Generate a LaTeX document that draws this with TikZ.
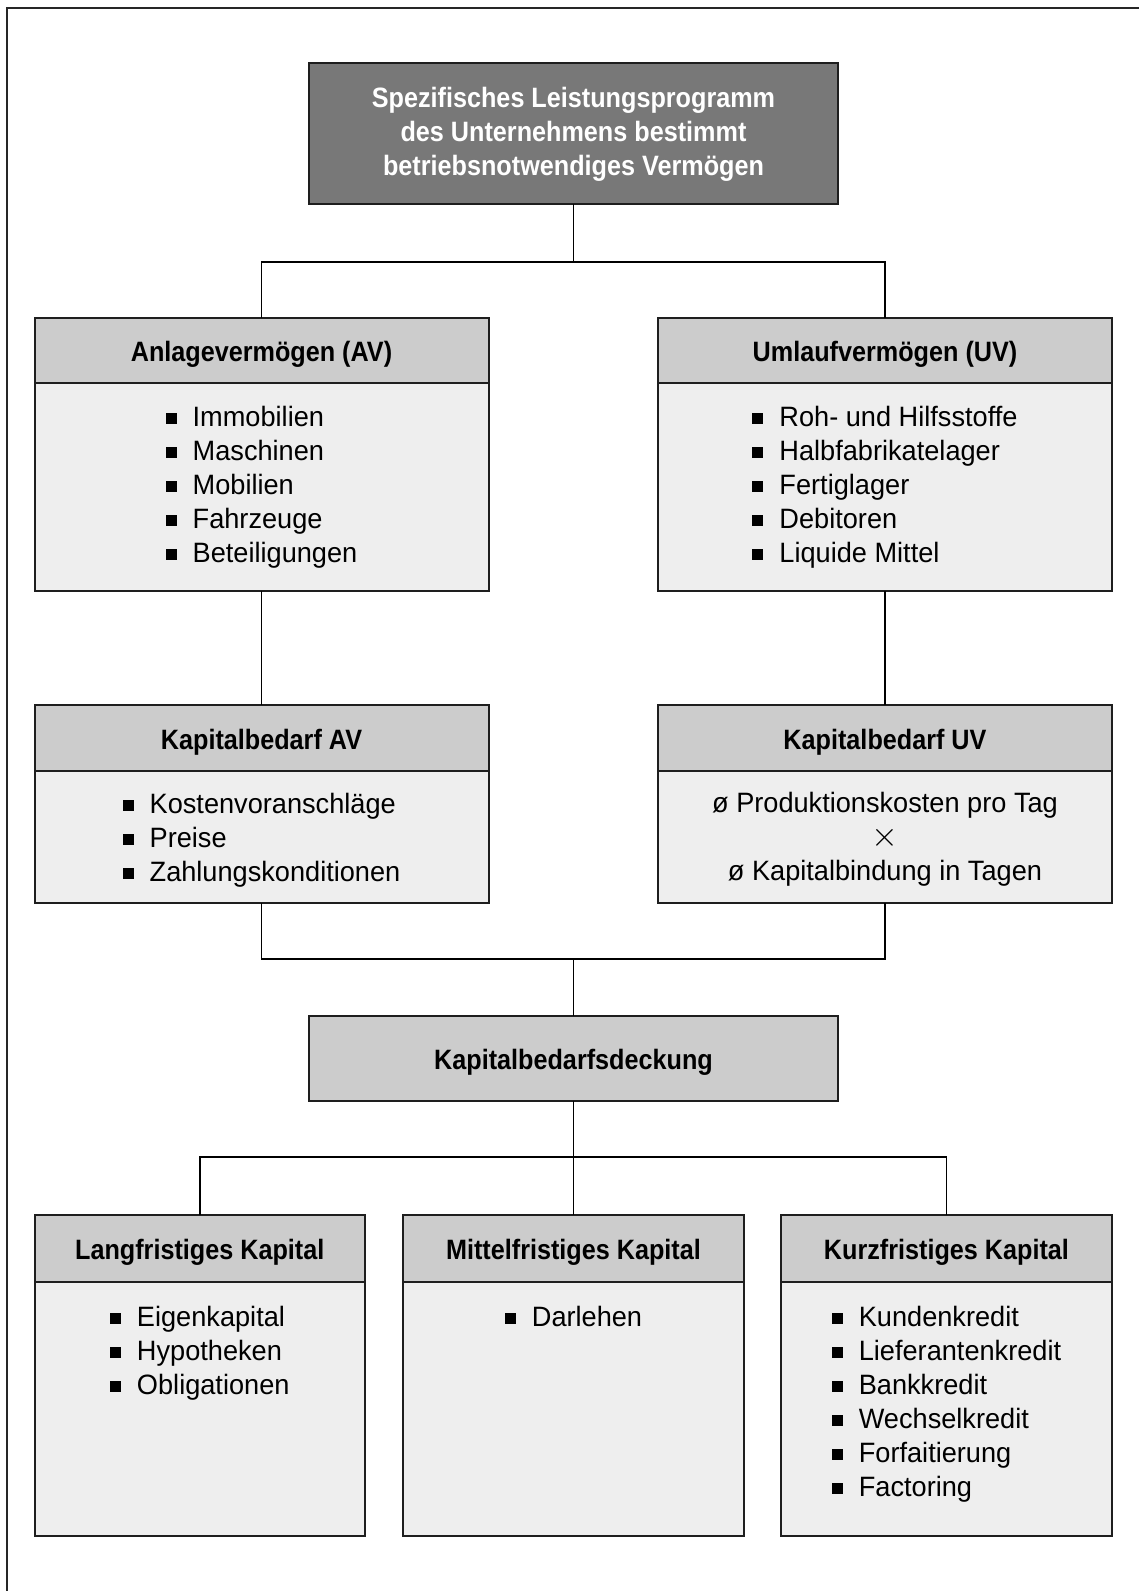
\documentclass[tikz,border=0pt]{standalone}
\usepackage{fontspec}
\setmainfont{Liberation Sans}
\newfontfamily\bodyfont{Liberation Sans}[FakeStretch=0.97]
\newfontfamily\headfont{Liberation Sans}[FakeStretch=0.9]
\definecolor{darkfill}{HTML}{787878}
\definecolor{headfill}{HTML}{CCCCCC}
\definecolor{bodyfill}{HTML}{EEEEEE}
\definecolor{edge}{HTML}{1E1E1E}
\newcommand\bx{\raisebox{0.8pt}{\rule{5.5pt}{5.5pt}}\hspace{8pt}}
\tikzset{
  outerbox/.style={draw=edge, line width=1pt, fill=bodyfill, inner sep=0pt, outer sep=0pt, anchor=north west},
  headbox/.style={draw=edge, line width=1pt, fill=headfill, inner sep=0pt, outer sep=0pt, anchor=north},
  htext/.style={anchor=base, inner sep=0pt, font=\headfont\bfseries\fontsize{14}{17}\selectfont},
  ltext/.style={anchor=base, inner sep=0pt, font=\bodyfont\fontsize{14}{17}\selectfont},
  conn/.style={draw=black, line width=0.75pt},
  frameline/.style={draw=black!85, line width=1pt}
}
\begin{document}
\begin{tikzpicture}[x=0.5pt,y=-0.5pt]
\useasboundingbox (0,0) rectangle (1139,1591);
\draw[frameline] (7,1591) -- (7,8) -- (1139,8);

% top box
\node[outerbox, fill=darkfill, minimum width=264.5pt, minimum height=70.5pt] (top) at (309,63) {};
\node[htext, text=white] (topt) at (573.5,107) {\begin{tabular}[t]{@{}c@{}}Spezifisches Leistungsprogramm\\des Unternehmens bestimmt\\betriebsnotwendiges Vermögen\end{tabular}};

% AV
\node[outerbox, minimum width=227pt, minimum height=136.75pt] (av) at (34.5,317.5) {};
\node[headbox, minimum width=227pt, minimum height=32.75pt] (avh) at (av.north) {};
\node[htext] (avt) at (261.5,361.5) {Anlagevermögen (AV)};
\node[ltext] (avl) at (261.5,426) {\begin{tabular}[t]{@{}l@{}}\bx Immobilien\\\bx Maschinen\\\bx Mobilien\\\bx Fahrzeuge\\\bx Beteiligungen\end{tabular}};

% UV
\node[outerbox, minimum width=227pt, minimum height=136.75pt] (uv) at (658,317.5) {};
\node[headbox, minimum width=227pt, minimum height=32.75pt] (uvh) at (uv.north) {};
\node[htext] (uvt) at (885,361.5) {Umlaufvermögen (UV)};
\node[ltext] (uvl) at (885,426) {\begin{tabular}[t]{@{}l@{}}\bx Roh- und Hilfsstoffe\\\bx Halbfabrikatelager\\\bx Fertiglager\\\bx Debitoren\\\bx Liquide Mittel\end{tabular}};

% Kapitalbedarf AV
\node[outerbox, minimum width=227pt, minimum height=99pt] (kav) at (34.5,705) {};
\node[headbox, minimum width=227pt, minimum height=33pt] (kavh) at (kav.north) {};
\node[htext] (kavt) at (261.5,749.5) {Kapitalbedarf AV};
\node[ltext] (kavl) at (261.5,813) {\begin{tabular}[t]{@{}l@{}}\bx Kostenvoranschläge\\\bx Preise\\\bx Zahlungskonditionen\end{tabular}};

% Kapitalbedarf UV
\node[outerbox, minimum width=227pt, minimum height=99pt] (kuv) at (658,705) {};
\node[headbox, minimum width=227pt, minimum height=33pt] (kuvh) at (kuv.north) {};
\node[htext] (kuvt) at (885,749.5) {Kapitalbedarf UV};
\node[ltext] (kuvl) at (885,812) {\begin{tabular}[t]{@{}c@{}}ø Produktionskosten pro Tag\\{\fontsize{18}{17}\selectfont$\times$}\\ø Kapitalbindung in Tagen\end{tabular}};

% Kapitalbedarfsdeckung
\node[outerbox, fill=headfill, minimum width=264.5pt, minimum height=42.5pt] (kbd) at (309,1016) {};
\node[htext] (kbdt) at (573.5,1069) {Kapitalbedarfsdeckung};

% bottom boxes
\node[outerbox, minimum width=165.25pt, minimum height=160.5pt] (lang) at (34.5,1215) {};
\node[headbox, minimum width=165.25pt, minimum height=33.25pt] (langh) at (lang.north) {};
\node[htext] (langt) at (199.75,1259.5) {Langfristiges Kapital};
\node[ltext] (langl) at (199.75,1326) {\begin{tabular}[t]{@{}l@{}}\bx Eigenkapital\\\bx Hypotheken\\\bx Obligationen\end{tabular}};

\node[outerbox, minimum width=170.5pt, minimum height=160.5pt] (mittel) at (403,1215) {};
\node[headbox, minimum width=170.5pt, minimum height=33.25pt] (mittelh) at (mittel.north) {};
\node[htext] (mittelt) at (573.5,1259.5) {Mittelfristiges Kapital};
\node[ltext] (mittell) at (573.5,1326) {\begin{tabular}[t]{@{}l@{}}\bx Darlehen\end{tabular}};

\node[outerbox, minimum width=165.5pt, minimum height=160.5pt] (kurz) at (781,1215) {};
\node[headbox, minimum width=165.5pt, minimum height=33.25pt] (kurzh) at (kurz.north) {};
\node[htext] (kurzt) at (946.5,1259.5) {Kurzfristiges Kapital};
\node[ltext] (kurzl) at (946.5,1326) {\begin{tabular}[t]{@{}l@{}}\bx Kundenkredit\\\bx Lieferantenkredit\\\bx Bankkredit\\\bx Wechselkredit\\\bx Forfaitierung\\\bx Factoring\end{tabular}};

% connectors
\coordinate (j1) at (573.5,262);
\coordinate (j2) at (573.5,959);
\coordinate (j3) at (573.5,1157);
\draw[conn] (top.south) -- (j1);
\draw[conn] (avh.north) |- (j1) -| (uvh.north);
\draw[conn] (av.south) -- (kavh.north);
\draw[conn] (uv.south) -- (kuvh.north);
\draw[conn] (kav.south) |- (j2) -| (kuv.south);
\draw[conn] (j2) -- (kbd.north);
\draw[conn] (kbd.south) -- (j3);
\draw[conn] (langh.north) |- (j3) -| (kurzh.north);
\draw[conn] (j3) -- (mittelh.north);
\end{tikzpicture}
\end{document}
